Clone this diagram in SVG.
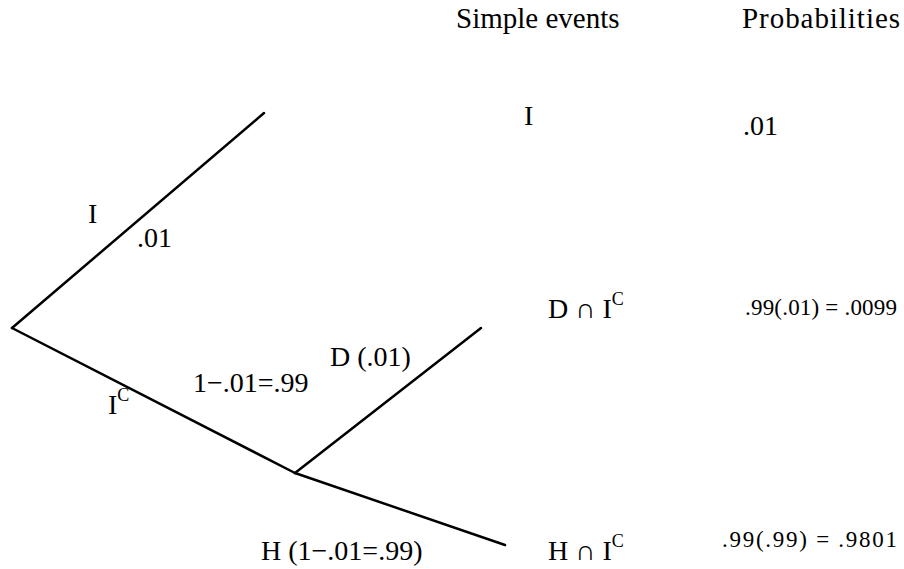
<svg xmlns="http://www.w3.org/2000/svg" width="904" height="569" viewBox="0 0 904 569">
<style>
text{font-family:"Liberation Serif","Times New Roman",serif;fill:#000;font-size:28px}
.hd{font-size:29px}
.sm{font-size:23px}
.sup{font-size:18px}
.br{stroke:#000;stroke-width:2.5;fill:none;stroke-linecap:round}
</style>
<rect width="904" height="569" fill="#fff"/>
<g id="connectors">
<line class="br" x1="12" y1="328" x2="264" y2="113"/>
<line class="br" x1="12" y1="328" x2="295" y2="473"/>
<line class="br" x1="295" y1="473" x2="481" y2="328"/>
<line class="br" x1="295" y1="473" x2="505" y2="545"/>
</g>
<g id="headers">
<text class="hd" x="456" y="28">Simple events</text>
<text class="hd" x="742" y="28" textLength="158" lengthAdjust="spacing">Probabilities</text>
</g>
<g id="branch-labels">
<text x="88" y="223">I</text>
<text x="137" y="247">.01</text>
<text x="108" y="414">I<tspan class="sup" dy="-13">C</tspan></text>
<text x="193" y="392">1−.01=.99</text>
<text x="330" y="366">D (.01)</text>
<text x="261" y="560">H (1−.01=.99)</text>
</g>
<g id="events">
<text x="524" y="125">I</text>
<text x="548" y="318">D ∩ I<tspan class="sup" dy="-13">C</tspan></text>
<text x="548" y="560">H ∩ I<tspan class="sup" dy="-13">C</tspan></text>
</g>
<g id="probabilities">
<text x="743" y="135" font-size="26">.01</text>
<text class="sm" x="745" y="315" textLength="152" lengthAdjust="spacing">.99(.01) = .0099</text>
<text class="sm" x="722" y="547" textLength="175" lengthAdjust="spacing">.99(.99) = .9801</text>
</g>
</svg>
